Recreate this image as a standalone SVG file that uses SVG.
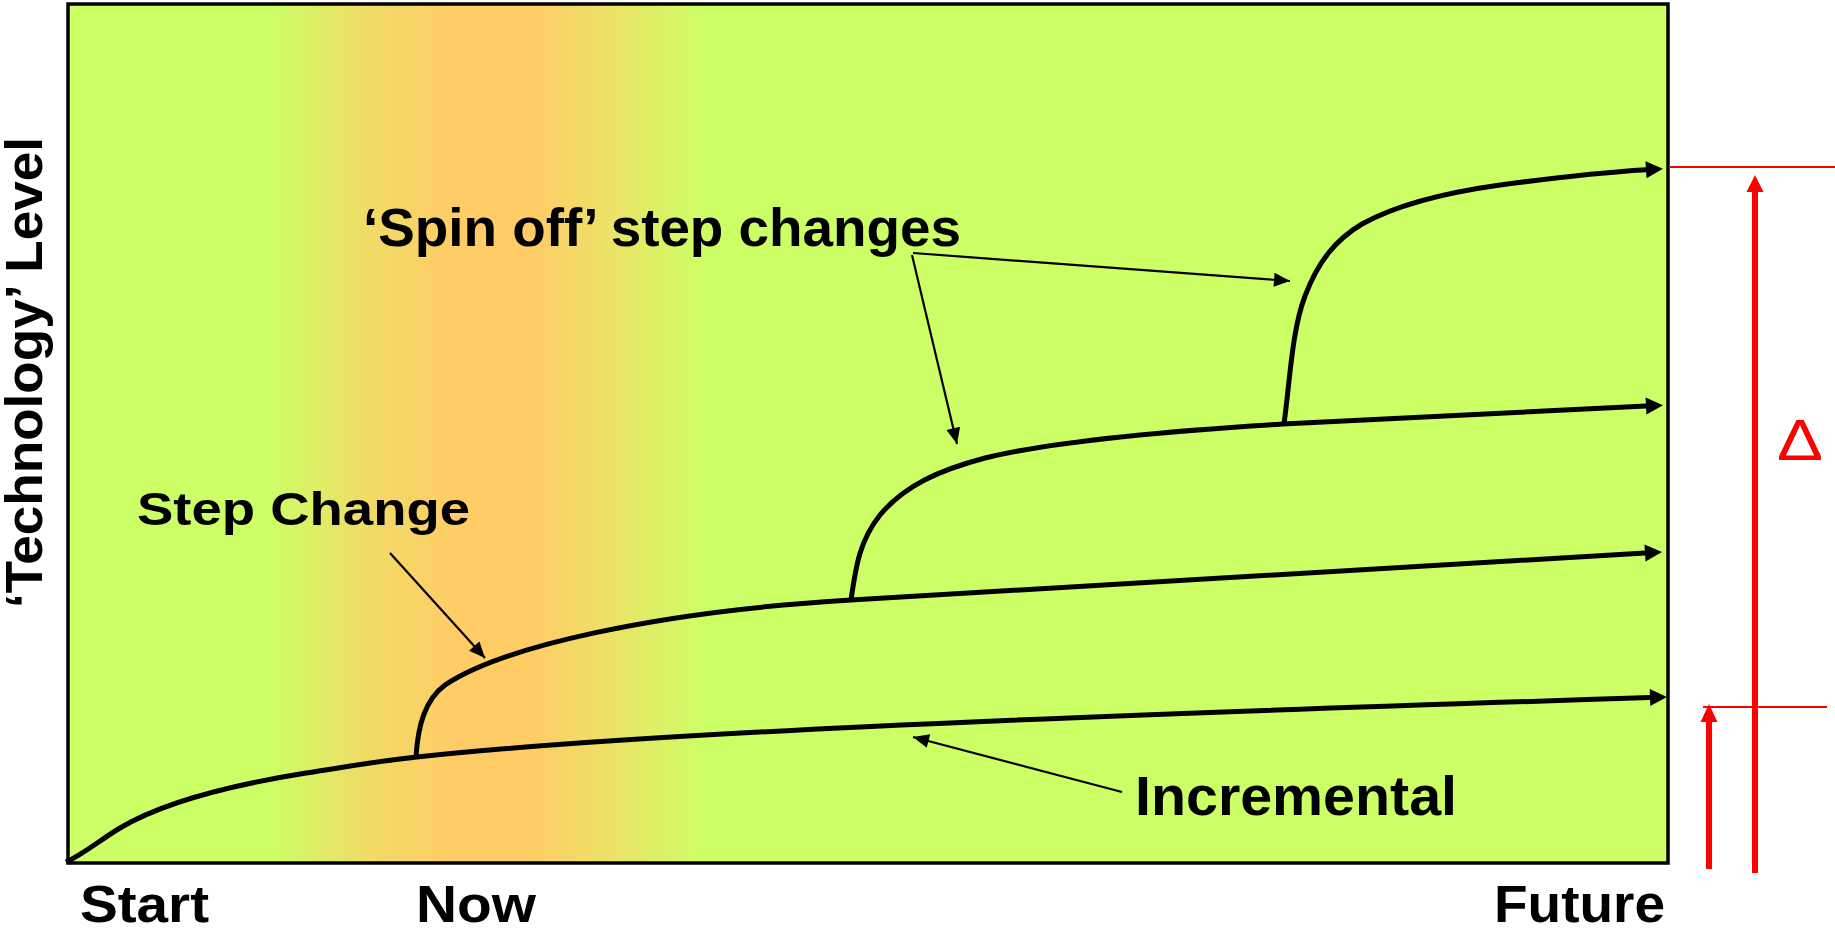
<svg xmlns="http://www.w3.org/2000/svg" width="1835" height="929" viewBox="0 0 1835 929">
  <style>
    .lbl { font-family: "Liberation Sans", Arial, sans-serif; font-weight: bold; fill: #000; }
    .curve { fill: none; stroke: #000; stroke-width: 5; stroke-linejoin: round; }
    .ptr { fill: none; stroke: #000; stroke-width: 2.2; }
    .red { stroke: #FF0000; fill: none; }
  </style>
  <defs>
    <linearGradient id="bg" gradientUnits="userSpaceOnUse" x1="68" y1="0" x2="1668" y2="0">
      <stop offset="0" stop-color="#CCFF66"/>
      <stop offset="0.125" stop-color="#CCFF66"/>
      <stop offset="0.19" stop-color="#F2DA66"/>
      <stop offset="0.245" stop-color="#FFCC66"/>
      <stop offset="0.29" stop-color="#FFCC66"/>
      <stop offset="0.335" stop-color="#EEE066"/>
      <stop offset="0.40" stop-color="#CCFF66"/>
      <stop offset="1" stop-color="#CCFF66"/>
    </linearGradient>
    <marker id="bigHead" markerUnits="userSpaceOnUse" markerWidth="20" markerHeight="20" refX="0" refY="0" viewBox="0 -10 20 20" orient="auto" overflow="visible">
      <path d="M0,-8.5 L17,0 L0,8.5 z" fill="#000"/>
    </marker>
    <marker id="thinHead" markerUnits="userSpaceOnUse" markerWidth="20" markerHeight="20" refX="16" refY="0" viewBox="0 -10 20 20" orient="auto" overflow="visible">
      <path d="M0,-7 L16,0 L0,7 z" fill="#000"/>
    </marker>
  </defs>

  <rect x="0" y="0" width="1835" height="929" fill="#FFFFFF"/>

  <g id="chart-area">
    <rect x="68" y="4" width="1600" height="859" fill="url(#bg)" stroke="#000" stroke-width="3.5"/>
  </g>

  <g id="connectors">
    <!-- Incremental -->
    <path class="curve" marker-end="url(#bigHead)" d="M66,862 C85,853 100,840 120,828 C150,810 200,790 306,773 C340,768 370,762 417,757 C620,735 1000,718 1650,697.6"/>
    <!-- Step change -->
    <path class="curve" marker-end="url(#bigHead)" d="M416,757 C418,725 425,700 445,685 C500,648 650,612 851,600 L1645,553"/>
    <!-- Spin off 1 -->
    <path class="curve" marker-end="url(#bigHead)" d="M851,600 C856,565 860,540 880,515 C905,485 940,470 985,458 C1050,442 1150,432 1283,424 L1646,406"/>
    <!-- Spin off 2 -->
    <path class="curve" marker-end="url(#bigHead)" d="M1284,424 C1290,380 1292,330 1305,296 C1318,262 1335,240 1362,224 C1400,203 1450,192 1500,185 C1560,177 1610,172 1646,169.8"/>

    <!-- pointer arrows -->
    <path class="ptr" marker-end="url(#thinHead)" d="M390,553 L485,658"/>
    <path class="ptr" marker-end="url(#thinHead)" d="M913,253 L1290,281"/>
    <path class="ptr" marker-end="url(#thinHead)" d="M912,255 L957,444"/>
    <path class="ptr" marker-end="url(#thinHead)" d="M1122,792 L913,737"/>
  </g>

  <g id="delta-scale">
    <line class="red" x1="1669" y1="167" x2="1835" y2="167" stroke-width="2"/>
    <line class="red" x1="1703" y1="707" x2="1827" y2="707" stroke-width="2"/>
    <line class="red" x1="1755" y1="190" x2="1755" y2="873" stroke-width="6"/>
    <polygon points="1755,175 1763.5,192 1746.5,192" fill="#FF0000"/>
    <line class="red" x1="1709" y1="720" x2="1709" y2="869" stroke-width="6"/>
    <polygon points="1709,704 1717.5,722 1700.5,722" fill="#FF0000"/>
    <text x="1800" y="460" text-anchor="middle" font-family="Liberation Sans, Arial, sans-serif" font-size="57" fill="#FF0000" textLength="46" lengthAdjust="spacingAndGlyphs">Δ</text>
  </g>

  <g id="label-spinoff">
    <text class="lbl" x="363" y="246" font-size="54" textLength="598" lengthAdjust="spacingAndGlyphs">‘Spin off’ step changes</text>
  </g>
  <g id="label-stepchange">
    <text class="lbl" x="137" y="525" font-size="47" textLength="333" lengthAdjust="spacingAndGlyphs">Step Change</text>
  </g>
  <g id="label-incremental">
    <text class="lbl" x="1135" y="815" font-size="56" textLength="322" lengthAdjust="spacingAndGlyphs">Incremental</text>
  </g>
  <g id="axis-labels">
    <text class="lbl" x="80" y="922" font-size="52" textLength="129" lengthAdjust="spacingAndGlyphs">Start</text>
    <text class="lbl" x="416" y="922" font-size="52" textLength="120" lengthAdjust="spacingAndGlyphs">Now</text>
    <text class="lbl" x="1494" y="922" font-size="51" textLength="171" lengthAdjust="spacingAndGlyphs">Future</text>
    <text class="lbl" transform="translate(42,608) rotate(-90)" x="0" y="0" font-size="52" textLength="471" lengthAdjust="spacingAndGlyphs">‘Technology’ Level</text>
  </g>
</svg>
